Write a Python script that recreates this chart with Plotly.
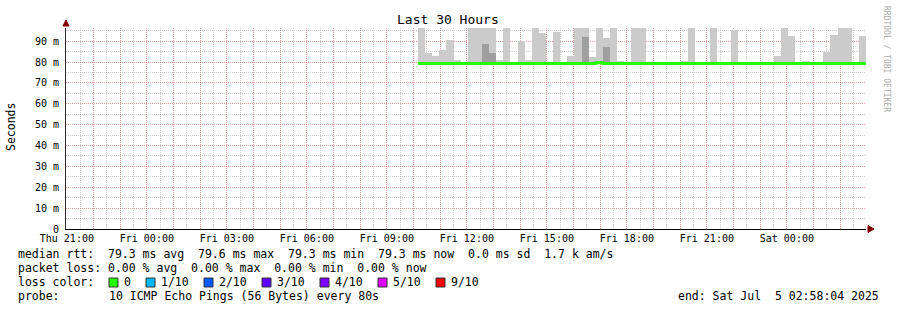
import plotly.graph_objects as go
import pandas as pd

# ---------------- data ----------------
first_step = "2025-07-04 10:10:00"
step_seconds = 960
x_start = "2025-07-03 20:58:04"
x_end = "2025-07-05 02:58:04"

# top of the smoke (ms) per 16-minute step, None = no visible smoke
smoke_top = [100, 84.5, 83.0, 86.0, 90.7, 80.8, None, 100, 100, 100,
             100, 81.1, 100, None, 90.2, 81.0, 100, 94.0, None, 94.5,
             None, 83.0, 100, 100, 82.6, 100, 91.7, 100, 80.6, None,
             100, 100, None, None, None, None, None, 80.6, 100, None,
             None, 100, None, None, 95.5, None, None, None, None, None,
             83.0, 100, 92.6, None, 80.6, None, None, 85.0, 93.1, 100,
             100, None, 92.6]
# darker (inner) smoke layer
smoke_dark = [None, None, None, None, None, None, None, None, None, 88.8,
              84.2, None, None, None, None, None, None, None, None, None,
              None, None, None, 92.2, None, 80.4, 87.0, None, None, None,
              None, None, None, None, None, None, None, None, None, None,
              None, None, None, None, None, None, None, None, None, None,
              None, None, None, None, None, None, None, None, None, None,
              None, None, None]
median_rtt = [79.3, 79.3, 79.3, 79.3, 79.3, 79.3, 79.3, 79.3, 79.3, 79.3,
              79.3, 79.3, 79.3, 79.3, 79.3, 79.3, 79.3, 79.3, 79.3, 79.3,
              79.3, 79.3, 79.3, 79.3, 79.3, 79.6, 79.3, 79.3, 79.3, 79.3,
              79.3, 79.3, 79.3, 79.3, 79.3, 79.3, 79.3, 79.3, 79.3, 79.3,
              79.3, 79.3, 79.3, 79.3, 79.3, 79.3, 79.3, 79.3, 79.3, 79.3,
              79.3, 79.3, 79.3, 79.3, 79.3, 79.3, 79.3, 79.3, 79.3, 79.3,
              79.3, 79.3, 79.3]
smoke_base = 79.2

y_tick_vals = [0, 10, 20, 30, 40, 50, 60, 70, 80, 90]
y_tick_text = ["0", "10 m", "20 m", "30 m", "40 m", "50 m", "60 m", "70 m", "80 m", "90 m"]

legend_lines = [
    "median rtt:  79.3 ms avg  79.6 ms max  79.3 ms min  79.3 ms now  0.0 ms sd  1.7 k am/s",
    "packet loss: 0.00 % avg  0.00 % max  0.00 % min  0.00 % now",
]
loss_labels = ["0", "1/10", "2/10", "3/10", "4/10", "5/10", "9/10"]
loss_colors = ["#26ff00", "#00b8ff", "#0059ff", "#5e00ff", "#7e00ff", "#dd00ff", "#ff0000"]
probe_text = "10 ICMP Echo Pings (56 Bytes) every 80s"
end_text = "end: Sat Jul  5 02:58:04 2025"

# ---------------- derived ----------------
times = pd.date_range(first_step, periods=len(smoke_top), freq=f"{step_seconds}s")
width_ms = step_seconds * 1000

hour_ticks = pd.date_range("2025-07-03 21:00", "2025-07-05 02:00", freq="1h")
hour_text = [t.strftime("%a %H:%M") if t.hour % 3 == 0 else "" for t in hour_ticks]

FONT = "DejaVu Sans Mono"
W, H = 897, 310
L, R, T, B = 66, 31, 28, 81
PW, PH = W - L - R, H - T - B

MAJOR = "rgba(255,90,90,0.42)"
MINOR = "rgba(150,150,150,0.45)"
DASH = "1px,1px"


def px(x):
    return (x - L) / PW


def py(y):
    return (H - B - y) / PH


fig = go.Figure()

fig.add_trace(go.Bar(
    x=times, y=[None if v is None else v - smoke_base for v in smoke_top],
    base=smoke_base, width=width_ms, offset=0,
    marker=dict(color="#cbcbcb", line=dict(width=0)), hoverinfo="skip"))
fig.add_trace(go.Bar(
    x=times, y=[None if v is None else v - smoke_base for v in smoke_dark],
    base=smoke_base, width=width_ms, offset=0,
    marker=dict(color="#9f9f9f", line=dict(width=0)), hoverinfo="skip"))

line_x = list(times) + [pd.Timestamp(x_end)]
line_y = median_rtt + [median_rtt[-1]]
fig.add_trace(go.Scatter(
    x=line_x, y=line_y, mode="lines", line=dict(color="#26ff00", width=3, shape="hv"),
    hoverinfo="skip"))

fig.update_layout(
    width=W, height=H, margin=dict(l=L, r=R, t=T, b=B),
    paper_bgcolor="white", plot_bgcolor="white",
    showlegend=False, barmode="overlay", bargap=0,
    font=dict(family=FONT, size=10, color="black"),
)

fig.update_xaxes(
    type="date", range=[x_start, x_end],
    tickmode="array", tickvals=hour_ticks, ticktext=hour_text,
    showgrid=True, gridcolor=MAJOR, griddash=DASH, gridwidth=1,
    minor=dict(dtick=1800000, tick0="2025-07-03 21:30", showgrid=True,
               gridcolor=MINOR, griddash=DASH, gridwidth=1),
    showline=True, linecolor="black", linewidth=1, ticks="", zeroline=False,
    tickfont=dict(family=FONT, size=10, color="black"), ticklabelstandoff=0,
)
fig.update_yaxes(
    range=[0, 96.3], tickmode="array", tickvals=y_tick_vals, ticktext=y_tick_text,
    showgrid=True, gridcolor=MAJOR, griddash=DASH, gridwidth=1,
    minor=dict(dtick=5, tick0=0, showgrid=True,
               gridcolor=MINOR, griddash=DASH, gridwidth=1),
    showline=True, linecolor="#3a2a2a", linewidth=1, ticks="", zeroline=False,
    tickfont=dict(family=FONT, size=10, color="black"), ticklabelstandoff=4,
)

ann = []
ann.append(dict(text="Last 30 Hours", x=px(448), y=py(20), xref="paper", yref="paper",
                showarrow=False, font=dict(family=FONT, size=13, color="black"),
                xanchor="center", yanchor="middle"))
ann.append(dict(text="Seconds", x=px(11), y=py(127), xref="paper", yref="paper",
                showarrow=False, textangle=-90, font=dict(family=FONT, size=11.5, color="black"),
                xanchor="center", yanchor="middle"))
ann.append(dict(text="RRDTOOL / TOBI OETIKER", x=px(886), y=py(59), xref="paper", yref="paper",
                showarrow=False, textangle=90, font=dict(family=FONT, size=8, color="#aaaaaa"),
                xanchor="center", yanchor="middle"))
for i, line in enumerate(legend_lines):
    ann.append(dict(text=line.replace(" ", "&nbsp;"), x=px(16), y=py(254 + 14 * i),
                    xref="paper", yref="paper", showarrow=False,
                    font=dict(family=FONT, size=11.5, color="black"),
                    xanchor="left", yanchor="middle"))
ann.append(dict(text="loss color:", x=px(16), y=py(282), xref="paper", yref="paper",
                showarrow=False, font=dict(family=FONT, size=11.5, color="black"),
                xanchor="left", yanchor="middle"))
ann.append(dict(text="probe:", x=px(16), y=py(296), xref="paper", yref="paper",
                showarrow=False, font=dict(family=FONT, size=11.5, color="black"),
                xanchor="left", yanchor="middle"))
ann.append(dict(text=probe_text, x=px(107), y=py(296), xref="paper", yref="paper",
                showarrow=False, font=dict(family=FONT, size=11.5, color="black"),
                xanchor="left", yanchor="middle"))
ann.append(dict(text=end_text.replace(" ", "&nbsp;"), x=px(881), y=py(296), xref="paper", yref="paper",
                showarrow=False, font=dict(family=FONT, size=11.5, color="black"),
                xanchor="right", yanchor="middle"))

shapes = []
sq_x = [109, 146, 204, 262, 320, 378, 436]
lab_x = [122, 159, 217, 275, 333, 391, 449]
for sx, lx, lab, col in zip(sq_x, lab_x, loss_labels, loss_colors):
    shapes.append(dict(type="rect", xref="paper", yref="paper",
                       x0=px(sx), x1=px(sx + 9), y0=py(287), y1=py(278),
                       fillcolor=col, line=dict(color="#333333", width=1)))
    ann.append(dict(text=lab, x=px(lx), y=py(282), xref="paper", yref="paper",
                    showarrow=False, font=dict(family=FONT, size=11.5, color="black"),
                    xanchor="left", yanchor="middle"))

# axis arrows
shapes.append(dict(type="path", xref="paper", yref="paper",
                   path=f"M {px(63)} {py(26)} L {px(66)} {py(20)} L {px(69)} {py(26)} Z",
                   fillcolor="#800000", line=dict(color="#800000", width=1)))
shapes.append(dict(type="path", xref="paper", yref="paper",
                   path=f"M {px(868)} {py(225.5)} L {px(874)} {py(229)} L {px(868)} {py(232.5)} Z",
                   fillcolor="#800000", line=dict(color="#800000", width=1)))

fig.update_layout(annotations=ann, shapes=shapes)

fig.write_html("out.html", config={"displayModeBar": False})
